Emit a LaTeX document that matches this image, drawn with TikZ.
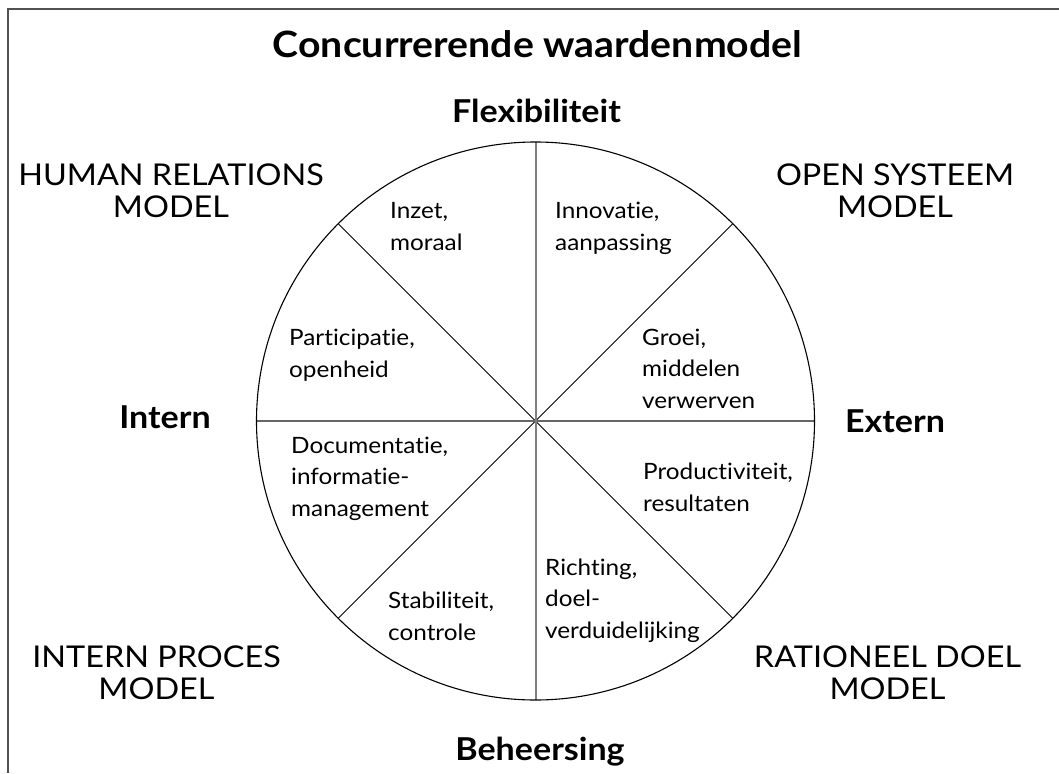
\documentclass[tikz,border=0pt]{standalone}
\usepackage{fontspec}
\setmainfont{Lato}[FakeStretch=1.08, Ligatures=NoCommon]
\begin{document}
\begin{tikzpicture}[x=1pt,y=-1pt,
  frame/.style={draw=black!68, line width=2pt},
  rim/.style={draw=black, line width=1.1pt},
  vaxis/.style={draw=black!50, line width=2pt},
  haxis/.style={draw=black!60, line width=1.4pt},
  diag/.style={draw=black, line width=0.9pt},
  heading/.style={font=\bfseries\fontsize{36.3}{40}\selectfont, inner sep=0pt, anchor=base},
  axislabel/.style={font=\bfseries\fontsize{31.5}{34}\selectfont, inner sep=0pt, anchor=base},
  % multi-line nodes: the base anchor sits on the baseline of the last line
  modellabel/.style={font=\fontsize{30}{32}\selectfont, align=center, inner sep=0pt, anchor=base},
  sector/.style={font=\fontsize{22.5}{31.5}\selectfont, align=left, inner sep=0pt, anchor=base west}
]
\useasboundingbox (0,0) rectangle (1059,773);

% open frame: top and left edges only
\coordinate (frameTL) at (7.5,9.5);
\coordinate (frameTR) at (1059,9.5);
\coordinate (frameBL) at (7.5,773);
\draw[frame] (frameTR) -- (frameTL) -- (frameBL);

% the wheel
\coordinate (C) at (535.5,421);
\def\wheelR{279pt}
\path (C) ++(90:\wheelR) coordinate (N);
\path (C) ++(270:\wheelR) coordinate (S);
\path (C) ++(0:\wheelR) coordinate (E);
\path (C) ++(180:\wheelR) coordinate (W);
\path (C) ++(45:\wheelR) coordinate (NE);
\path (C) ++(135:\wheelR) coordinate (NW);
\path (C) ++(225:\wheelR) coordinate (SW);
\path (C) ++(315:\wheelR) coordinate (SE);

\draw[diag] (NE) -- (SW);
\draw[diag] (NW) -- (SE);
\draw[haxis] (W) -- (E);
\draw[vaxis] (N) -- (S);
\draw[rim] (C) circle[radius=\wheelR];

% title and axis labels
\node[heading] (title) at (537.5,58) {Concurrerende waardenmodel};
\node[axislabel] (flex) at (536.5,123) {Flexibiliteit};
\node[axislabel] (intern) at (165,428) {Intern};
\node[axislabel] (extern) at (895,432) {Extern};
\node[axislabel] (beheer) at (540,760) {Beheersing};

% the four models
\node[modellabel] (hrm) at (171,217) {HUMAN RELATIONS\\MODEL};
\node[modellabel] (osm) at (895,217) {OPEN SYSTEEM\\MODEL};
\node[modellabel] (ipm) at (156.5,699) {INTERN PROCES\\MODEL};
\node[modellabel] (rdm) at (887.5,699) {RATIONEEL DOEL\\MODEL};

% the eight sectors
\node[sector] (s1) at (390,250) {Inzet,\\moraal};
\node[sector] (s2) at (555,250) {Innovatie,\\aanpassing};
\node[sector] (s3) at (289,377) {Participatie,\\openheid};
\node[sector] (s4) at (642,408) {Groei,\\middelen\\verwerven};
\node[sector] (s5) at (291,516) {Documentatie,\\informatie-\\management};
\node[sector] (s6) at (643,511) {Productiviteit,\\resultaten};
\node[sector] (s7) at (545,638) {Richting,\\doel-\\verduidelijking};
\node[sector] (s8) at (388,640) {Stabiliteit,\\controle};
\end{tikzpicture}
\end{document}
